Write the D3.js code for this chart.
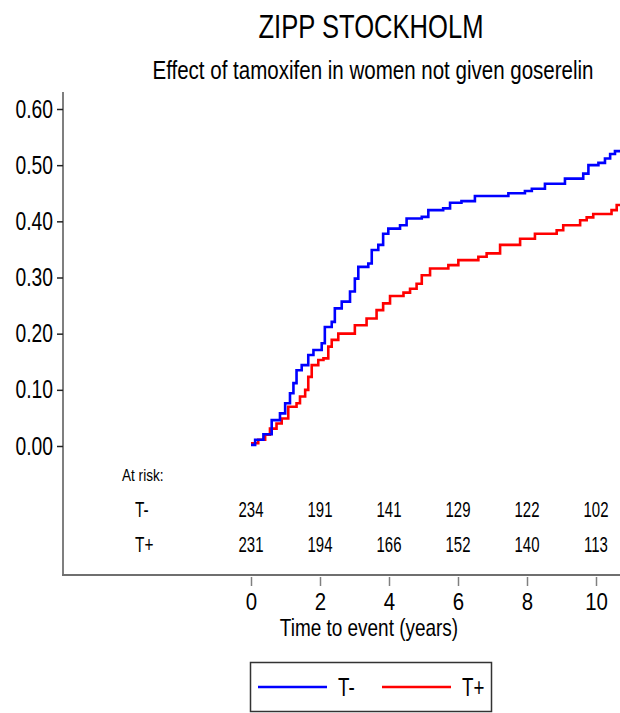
<!DOCTYPE html>
<html>
<head>
<meta charset="utf-8">
<script src="https://cdn.jsdelivr.net/npm/d3@7"></script>
<style>
  body { margin: 0; background: #fff; }
  svg text { font-family: "Liberation Sans Narrow", "Arial Narrow", "Liberation Sans", sans-serif; fill: #000; }
</style>
</head>
<body>
<div id="chart"></div>
<script>
'use strict';

// cumulative incidence, T- (no tamoxifen): step times (years) and values
var timesMinus = [0, 0.12, 0.36, 0.6, 0.84, 0.99, 1.13, 1.23, 1.32, 1.47, 1.66, 1.81, 2.05, 2.14, 2.34, 2.43,
                  2.63, 2.87, 3.01, 3.11, 3.40, 3.50, 3.69, 3.83, 3.98, 4.32, 4.51, 4.95, 5.14, 5.57, 5.77,
                  6.10, 6.49, 7.46, 7.94, 8.14, 8.52, 9.10, 9.63, 9.78, 10.07, 10.26, 10.41, 10.55, 10.7];
var valuesMinus = [0.002, 0.011, 0.021, 0.046, 0.058, 0.076, 0.094, 0.112, 0.135, 0.144, 0.162, 0.171, 0.183, 0.212, 0.221, 0.245,
                   0.257, 0.275, 0.298, 0.319, 0.325, 0.349, 0.358, 0.378, 0.387, 0.393, 0.405, 0.408, 0.420, 0.423, 0.433,
                   0.436, 0.445, 0.450, 0.454, 0.458, 0.467, 0.476, 0.485, 0.500, 0.504, 0.512, 0.520, 0.525, 0.525];

// cumulative incidence, T+ (tamoxifen)
var timesPlus = [0, 0.21, 0.41, 0.55, 0.74, 0.89, 1.08, 1.32, 1.42, 1.57, 1.66, 1.76, 1.95, 2.10, 2.24, 2.34,
                 2.53, 3.01, 3.35, 3.64, 3.83, 4.03, 4.42, 4.61, 4.80, 4.95, 5.19, 5.72, 6.01, 6.59, 6.83,
                 7.22, 7.80, 8.23, 8.86, 9.05, 9.54, 9.73, 9.92, 10.45, 10.60, 10.7];
var valuesPlus = [0.005, 0.011, 0.020, 0.031, 0.040, 0.049, 0.070, 0.076, 0.088, 0.100, 0.123, 0.144, 0.153, 0.156, 0.177, 0.189,
                  0.200, 0.215, 0.227, 0.242, 0.254, 0.267, 0.273, 0.280, 0.289, 0.304, 0.316, 0.322, 0.331, 0.337, 0.343,
                  0.358, 0.369, 0.378, 0.384, 0.393, 0.402, 0.407, 0.413, 0.420, 0.429, 0.429];

// numbers at risk
var riskTimes = [0, 2, 4, 6, 8, 10];
var riskMinus = [234, 191, 141, 129, 122, 102];
var riskPlus  = [231, 194, 166, 152, 140, 113];

var yTicks = [0, 0.1, 0.2, 0.3, 0.4, 0.5, 0.6];
var xTicks = [0, 2, 4, 6, 8, 10];

var groups = ["T-", "T+"];
var colors = ["#0000ff", "#ff0000"];

var W = 620, H = 713;
var axisX = 63, axisBottom = 575;

// no narrow font here, so squeeze text horizontally
function squeeze(sel, sx) {
    sel.each(function() {
        var t = d3.select(this);
        var xx = +t.attr("x") || 0;
        t.attr("x", xx / sx).attr("transform", "scale(" + sx + ",1)");
    });
}

// scales
var x = d3.scaleLinear().domain([0, 10]).range([251, 596]);
var y = d3.scaleLinear().domain([0, 0.6]).range([446, 109]);

var svg = d3.select("#chart").append("svg")
    .attr("width", W)
    .attr("height", H);

// titles
svg.append("text")
    .attr("x", 371).attr("y", 38)
    .attr("text-anchor", "middle")
    .style("font-size", "33px")
    .text("ZIPP STOCKHOLM")
    .call(squeeze, 0.775);

svg.append("text")
    .attr("x", 373).attr("y", 79)
    .attr("text-anchor", "middle")
    .style("font-size", "26px")
    .text("Effect of tamoxifen in women not given goserelin")
    .call(squeeze, 0.79);

// frame lines
svg.append("line")
    .attr("x1", axisX).attr("x2", axisX)
    .attr("y1", 92).attr("y2", axisBottom)
    .attr("stroke", "#7f7f7f").attr("stroke-width", 2);
svg.append("line")
    .attr("x1", axisX - 1).attr("x2", W)
    .attr("y1", axisBottom).attr("y2", axisBottom)
    .attr("stroke", "#6f6f6f").attr("stroke-width", 2);

// y axis
var yAxis = svg.append("g")
    .attr("transform", "translate(" + axisX + ",0)")
    .call(d3.axisLeft(y).tickValues(yTicks).tickFormat(d3.format(".2f")).tickSize(6).tickPadding(4));
yAxis.select(".domain").remove();
yAxis.selectAll(".tick line").attr("stroke", "#222").attr("stroke-width", 1.5);
yAxis.selectAll("text").style("font-size", "25px").attr("fill", "#000").call(squeeze, 0.77);

// x axis
var xAxis = svg.append("g")
    .attr("transform", "translate(0," + (axisBottom + 2) + ")")
    .call(d3.axisBottom(x).tickValues(xTicks).tickSize(9).tickPadding(7));
xAxis.select(".domain").remove();
xAxis.selectAll(".tick line").attr("stroke", "#808080").attr("stroke-width", 1.5);
xAxis.selectAll("text").style("font-size", "24px").attr("fill", "#000").call(squeeze, 0.85);

svg.append("text")
    .attr("x", 369).attr("y", 636)
    .attr("text-anchor", "middle")
    .style("font-size", "24px")
    .text("Time to event (years)")
    .call(squeeze, 0.79);

// curves
svg.append("clipPath").attr("id", "plotclip")
    .append("rect").attr("x", axisX).attr("y", 90).attr("width", W - axisX).attr("height", 400);

var line = d3.line()
    .x(function(d) { return x(d[0]); })
    .y(function(d) { return y(d[1]); })
    .curve(d3.curveStepAfter);

var series = [
    d3.zip(timesMinus, valuesMinus),
    d3.zip(timesPlus, valuesPlus)
];

// red first, blue on top
[1, 0].forEach(function(i) {
    svg.append("path")
        .datum(series[i])
        .attr("clip-path", "url(#plotclip)")
        .attr("fill", "none")
        .attr("stroke", colors[i])
        .attr("stroke-width", 2.6)
        .attr("d", line);
});

// at risk table
svg.append("text")
    .attr("x", 122).attr("y", 481)
    .style("font-size", "17px")
    .text("At risk:")
    .call(squeeze, 0.8);

[riskMinus, riskPlus].forEach(function(row, i) {
    var yy = 517 + i * 35;
    svg.append("text")
        .attr("x", 135).attr("y", yy)
        .style("font-size", "22px")
        .text(groups[i])
        .call(squeeze, 0.7);
    svg.selectAll(null)
        .data(row)
        .enter().append("text")
        .attr("x", function(d, j) { return x(riskTimes[j]); })
        .attr("y", yy)
        .attr("text-anchor", "middle")
        .style("font-size", "22px")
        .text(function(d) { return d; })
        .call(squeeze, 0.68);
});

// legend
var legend = svg.append("g");
legend.append("rect")
    .attr("x", 250.5).attr("y", 662.5)
    .attr("width", 241).attr("height", 49)
    .attr("fill", "none").attr("stroke", "#333").attr("stroke-width", 1.5);

var legX = [258, 382];
groups.forEach(function(g, i) {
    legend.append("line")
        .attr("x1", legX[i]).attr("x2", legX[i] + 69)
        .attr("y1", 687).attr("y2", 687)
        .attr("stroke", colors[i]).attr("stroke-width", 2.6);
    legend.append("text")
        .attr("x", legX[i] + 80).attr("y", 696)
        .style("font-size", "25px")
        .text(g)
        .call(squeeze, 0.75);
});
</script>
</body>
</html>
